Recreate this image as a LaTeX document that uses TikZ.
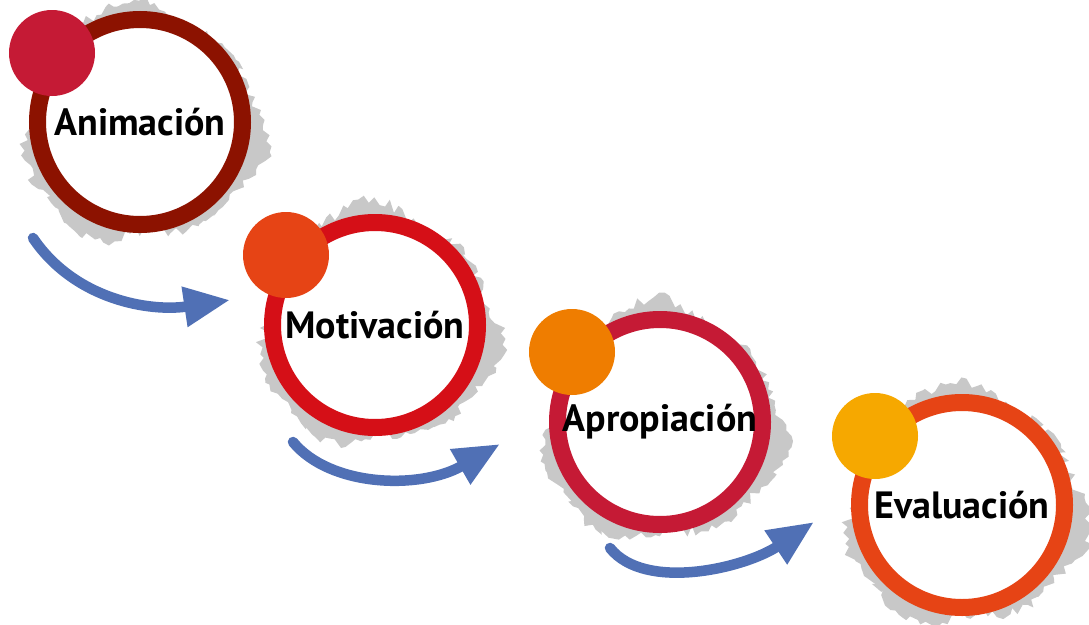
\documentclass[tikz,border=0pt]{standalone}
\usepackage{fontspec}
\setmainfont{PT Sans}
\usetikzlibrary{arrows.meta}
\definecolor{ringA}{HTML}{8C1200}
\definecolor{ringB}{HTML}{D50F17}
\definecolor{ringC}{HTML}{C51A35}
\definecolor{ringD}{HTML}{E64415}
\definecolor{dotA}{HTML}{C51A35}
\definecolor{dotB}{HTML}{E64415}
\definecolor{dotC}{HTML}{EF7D00}
\definecolor{dotD}{HTML}{F6A800}
\definecolor{arrowblue}{HTML}{5070B5}
\definecolor{splashgray}{HTML}{C8C8C8}
\newcommand\drawsplash[3]{%
  \pgfmathsetseed{#3}%
  \begin{scope}[shift={(#1,#2)}]
    \fill[splashgray] plot[samples=150, domain=0:357.6, variable=\t]
      ({\t}:{117+7*sin(3*\t+40)+5*sin(7*\t+15)+12*rnd-6}) -- cycle;
  \end{scope}}
\begin{document}
\begin{tikzpicture}[x=1pt,y=-1pt,
  ring/.style={circle, draw=#1, line width=17pt, fill=white, minimum size=205pt, inner sep=0pt,
    font=\fontsize{38}{40}\selectfont\bfseries, text=black},
  dot/.style={circle, fill=#1, minimum size=86pt, inner sep=0pt},
  flow/.style={draw=arrowblue, line width=10.5pt, line cap=round, -{Triangle[length=46pt,width=38pt]}}]
\useasboundingbox (0,0) rectangle (1089,624);
\drawsplash{142}{125}{11}
\drawsplash{377}{328}{23}
\drawsplash{662}{425}{37}
\drawsplash{964}{508}{41}
\node[ring=ringA] (c1) at (140,122) {Animación};
\node[ring=ringB] (c2) at (375,325) {Motivación};
\node[ring=ringC] (c3) at (660,422) {Apropiación};
\node[ring=ringD] (c4) at (962,505) {Evaluación};
\node[dot=dotA] (d1) at (52,53) {};
\node[dot=dotB] (d2) at (286,255) {};
\node[dot=dotC] (d3) at (572,352) {};
\node[dot=dotD] (d4) at (875,436) {};
\coordinate (a1s) at (33,238);  \coordinate (a1e) at (230,300);
\coordinate (a2s) at (293,442); \coordinate (a2e) at (500,444);
\coordinate (a3s) at (610,548); \coordinate (a3e) at (814,522);
\draw[flow] (a1s) .. controls (75,300) and (150,312) .. (a1e);
\draw[flow] (a2s) .. controls (330,487) and (420,490) .. (a2e);
\draw[flow] (a3s) .. controls (645,592) and (745,568) .. (a3e);
\end{tikzpicture}
\end{document}
